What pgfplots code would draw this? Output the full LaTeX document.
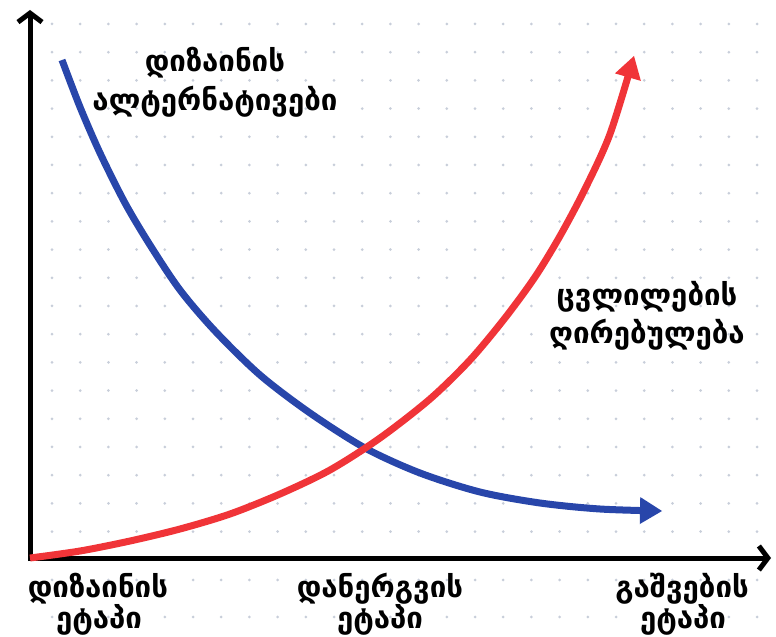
\documentclass[border=0pt]{standalone}
\usepackage{fontspec}
\setmainfont{DejaVu Sans}
\usepackage{pgfplots}
\pgfplotsset{compat=1.18}
\usetikzlibrary{arrows.meta}
\definecolor{cblue}{RGB}{40,70,170}
\definecolor{cred}{RGB}{240,52,56}
\definecolor{dotc}{RGB}{200,206,218}
\newcommand{\lab}{\fontsize{29.5}{34}\selectfont\bfseries}
\begin{document}
\begin{tikzpicture}
% background dots
\foreach \i in {0,...,26}{
  \foreach \j in {0,...,18}{
    \fill[dotc] ({(52+28.2*\i)*1bp},{(637-24-28.2*\j)*1bp}) circle (1.5bp);
  }
  \fill[dotc] ({(52+28.2*\i)*1bp},{(637-580)*1bp}) circle (1.5bp);
  \fill[dotc] ({(52+28.2*\i)*1bp},{(637-617)*1bp}) circle (1.5bp);
}
\begin{axis}[scale only axis, width=776bp, height=637bp,
  xmin=0, xmax=776, ymin=0, ymax=637, y dir=reverse,
  hide axis, clip=false]
% axes
\draw[line width=5bp, -{Straight Barb[length=9bp,width=24bp]}] (axis cs:30,561) -- (axis cs:30,10);
\draw[line width=5bp, -{Straight Barb[length=9bp,width=24bp]}] (axis cs:28,558) -- (axis cs:771,558);
% design alternatives (blue)
\addplot[cblue, line width=7bp, smooth, -{Triangle[length=22bp,width=27bp,line width=0pt 0]}] coordinates {
(62,60) (80,107) (100,153) (125,203) (150,245) (180,290) (215,331) (260,375)
(310,413) (365,448) (420,473) (480,492) (540,503) (600,509) (662,511)};
% cost of change (red)
\addplot[cred, line width=7bp, smooth, -{Triangle[length=22bp,width=27bp,line width=0pt 0]}] coordinates {
(30,558) (80,551) (130,541) (180,529) (230,514) (280,494) (330,470) (380,438)
(430,399) (470,360) (505,318) (535,277) (560,236) (585,189) (610,134) (634,56)};
% labels
\node[font=\lab, anchor=base] at (axis cs:215,72) {დიზაინის};
\node[font=\lab, anchor=base] at (axis cs:215,110) {ალტერნატივები};
\node[font=\lab, anchor=base] at (axis cs:647,305) {ცვლილების};
\node[font=\lab, anchor=base] at (axis cs:647,343) {ღირებულება};
\node[font=\lab, anchor=base] at (axis cs:98,597) {დიზაინის};
\node[font=\lab, anchor=base] at (axis cs:99,628) {ეტაპი};
\node[font=\lab, anchor=base] at (axis cs:380,597) {დანერგვის};
\node[font=\lab, anchor=base] at (axis cs:380,628) {ეტაპი};
\node[font=\lab, anchor=base] at (axis cs:682,597) {გაშვების};
\node[font=\lab, anchor=base] at (axis cs:683,628) {ეტაპი};
\end{axis}
\pgfresetboundingbox
\useasboundingbox (0,0) rectangle (776bp,637bp);
\end{tikzpicture}
\end{document}
